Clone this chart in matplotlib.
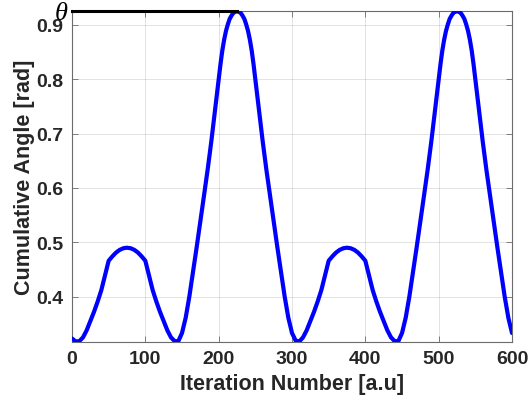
import matplotlib
matplotlib.use("Agg")
import matplotlib.pyplot as plt
import numpy as np

# ---- data ----
iteration = [
    0, 5, 10, 15, 20, 25, 30, 35, 40, 45, 50, 55, 60, 65, 70, 75, 80, 85, 90, 95,
    100, 105, 110, 115, 120, 125, 130, 135, 140, 145, 150, 155, 160, 165, 170, 175, 180, 185, 190, 195,
    200, 202.5, 205, 207.5, 210, 212.5, 215, 217.5, 220, 222.5, 225, 227.5, 230, 232.5, 235, 237.5,
    240, 242.5, 245, 247.5, 250, 255, 260, 265, 270, 275, 280, 285, 290, 295,
    300, 305, 310, 315, 320, 325, 330, 335, 340, 345, 350, 355, 360, 365, 370, 375, 380, 385, 390, 395,
    400, 405, 410, 415, 420, 425, 430, 435, 440, 445, 450, 455, 460, 465, 470, 475, 480, 485, 490, 495,
    500, 502.5, 505, 507.5, 510, 512.5, 515, 517.5, 520, 522.5, 525, 527.5, 530, 532.5, 535, 537.5,
    540, 542.5, 545, 547.5, 550, 555, 560, 565, 570, 575, 580, 585, 590, 595,
    600,
]
cum_angle = [
    0.323, 0.3175, 0.318, 0.325, 0.338, 0.355, 0.372, 0.391, 0.412, 0.439,
    0.466, 0.474, 0.481, 0.486, 0.489, 0.490, 0.489, 0.486, 0.481, 0.474,
    0.466, 0.439, 0.412, 0.391, 0.372, 0.355, 0.338, 0.325, 0.318, 0.318,
    0.333, 0.361, 0.400, 0.445, 0.491, 0.538, 0.586, 0.634, 0.686, 0.743,
    0.800, 0.828, 0.853, 0.873, 0.889, 0.901, 0.911, 0.917, 0.922, 0.924, 0.925,
    0.924, 0.922, 0.917, 0.911, 0.901, 0.889, 0.873, 0.853, 0.828, 0.800,
    0.743, 0.686, 0.634, 0.586, 0.538, 0.491, 0.445, 0.400, 0.361,
    0.333, 0.319, 0.3175, 0.325, 0.338, 0.355, 0.372, 0.391, 0.412, 0.439,
    0.466, 0.474, 0.481, 0.486, 0.489, 0.490, 0.489, 0.486, 0.481, 0.474,
    0.466, 0.439, 0.412, 0.391, 0.372, 0.355, 0.338, 0.325, 0.318, 0.318,
    0.333, 0.361, 0.400, 0.445, 0.491, 0.538, 0.586, 0.634, 0.686, 0.743,
    0.800, 0.828, 0.853, 0.873, 0.889, 0.901, 0.911, 0.917, 0.922, 0.924, 0.925,
    0.924, 0.922, 0.917, 0.911, 0.901, 0.889, 0.873, 0.853, 0.828, 0.800,
    0.743, 0.686, 0.634, 0.586, 0.538, 0.491, 0.445, 0.400, 0.361,
    0.333,
]
theta_x = [0, 225]
theta_y = [0.925, 0.925]

x_ticks = [0, 100, 200, 300, 400, 500, 600]
y_ticks = [0.4, 0.5, 0.6, 0.7, 0.8, 0.9]
y_ticklabels = ["0.4", "0.5", "0.6", "0.7", "0.8", "0.9"]

# ---- figure ----
plt.rcParams['font.family'] = ['Liberation Sans', 'DejaVu Sans']
fig = plt.figure(figsize=(5.29, 4.10), dpi=100)
ax = fig.add_axes([0.1361, 0.1634, 0.8318, 0.8073])

txt = '#262626'
ax.plot(iteration, cum_angle, color='#0000ff', lw=3.0, solid_joinstyle='round',
        solid_capstyle='round', zorder=3)
ax.plot(theta_x, theta_y, color='black', lw=2.2, zorder=4, clip_on=False)
ax.annotate('θ', xy=(theta_x[0], theta_y[0]), xytext=(-8, -1.5), textcoords='offset points',
            ha='center', va='center', fontsize=19, style='italic',
            family=['Liberation Serif', 'DejaVu Serif'], color='black', annotation_clip=False)

ax.set_xlim(0, 600)
ax.set_ylim(0.3165, 0.9255)
ax.set_xticks(x_ticks)
ax.set_yticks(y_ticks)
ax.set_yticklabels(y_ticklabels)

ax.grid(True, color='#262626', alpha=0.15, lw=0.6)
ax.set_axisbelow(True)
for s in ax.spines.values():
    s.set_color('#6b6b6b')
    s.set_linewidth(0.8)
ax.tick_params(direction='in', length=4, width=0.6, color='#6b6b6b',
               top=True, right=True, labelsize=14, labelcolor=txt, pad=6)
for lab in ax.get_xticklabels() + ax.get_yticklabels():
    lab.set_fontweight('bold')

ax.set_xlabel('Iteration Number [a.u]', fontsize=15.5, fontweight='bold', color=txt, labelpad=4)
ax.set_ylabel('Cumulative Angle [rad]', fontsize=15.5, fontweight='bold', color=txt, labelpad=1)

fig.savefig('out.png', dpi=100)
